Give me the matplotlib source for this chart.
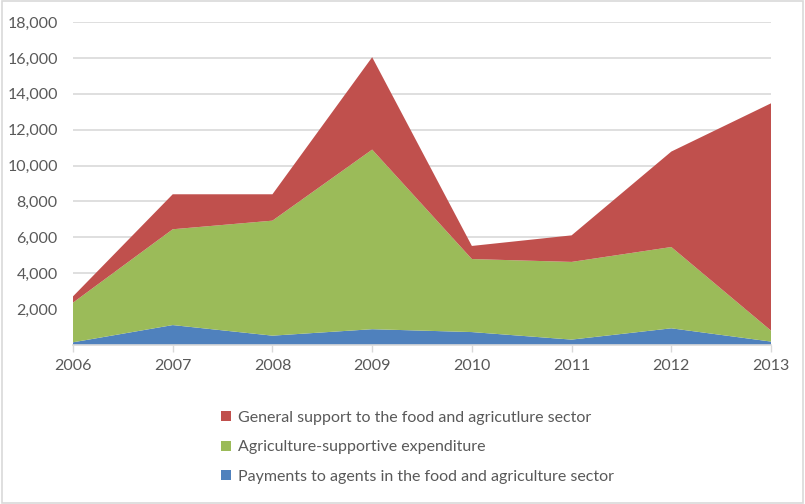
import matplotlib.pyplot as plt
from matplotlib.patches import Patch
from matplotlib.ticker import FuncFormatter

plt.rcParams['font.family'] = ['Lato', 'DejaVu Sans']

years = [2006, 2007, 2008, 2009, 2010, 2011, 2012, 2013]
payments = [150, 1110, 520, 880, 720, 300, 930, 190]
supportive = [2210, 5340, 6410, 10010, 4070, 4330, 4530, 610]
general = [350, 1950, 1470, 5150, 730, 1480, 5320, 12670]

labels = ["Payments to agents in the food and agriculture sector",
          "Agriculture-supportive expenditure",
          "General support to the food and agricutlure sector"]
colors = ['#4F81BD', '#9BBB59', '#C0504D']
text_color = '#595959'

fig = plt.figure(figsize=(8.05, 5.04), dpi=100)
ax = fig.add_axes([0.0907, 0.3155, 0.8671, 0.6408])

ax.stackplot(years, payments, supportive, general, colors=colors, linewidth=0)

ax.set_xlim(2006, 2013)
ax.set_ylim(0, 18000)
ax.set_xticks(years)
ax.set_yticks(range(2000, 18001, 2000))
ax.yaxis.set_major_formatter(FuncFormatter(lambda v, p: f"{int(v):,}"))

ax.grid(axis='y', color='#D9D9D9', linewidth=1.2)
ax.set_axisbelow(True)
for side in ['top', 'right', 'left']:
    ax.spines[side].set_visible(False)
ax.spines['bottom'].set_color('#D9D9D9')
ax.spines['bottom'].set_linewidth(1.2)
ax.spines['bottom'].set_zorder(5)

ax.tick_params(axis='y', length=0, pad=11, labelsize=11.5, labelcolor=text_color)
ax.tick_params(axis='x', length=5, width=1, color='#D9D9D9', pad=5,
               labelsize=11.5, labelcolor=text_color)

# legend listed top-down in reverse stacking order
handles = [Patch(facecolor=c) for c in colors[::-1]]
fig.legend(handles, labels[::-1], loc='upper left', bbox_to_anchor=(0.267, 0.198),
           frameon=False, fontsize=11.5, labelcolor=text_color,
           handlelength=0.6, handleheight=0.6, handletextpad=0.45,
           labelspacing=0.98, borderaxespad=0)

# thin grey border round the chart
fig.patches.append(plt.Rectangle((0.002, 0.002), 0.996, 0.996, transform=fig.transFigure,
                                 fill=False, edgecolor='#D9D9D9', linewidth=1.2))

fig.savefig('out.png', dpi=100)
